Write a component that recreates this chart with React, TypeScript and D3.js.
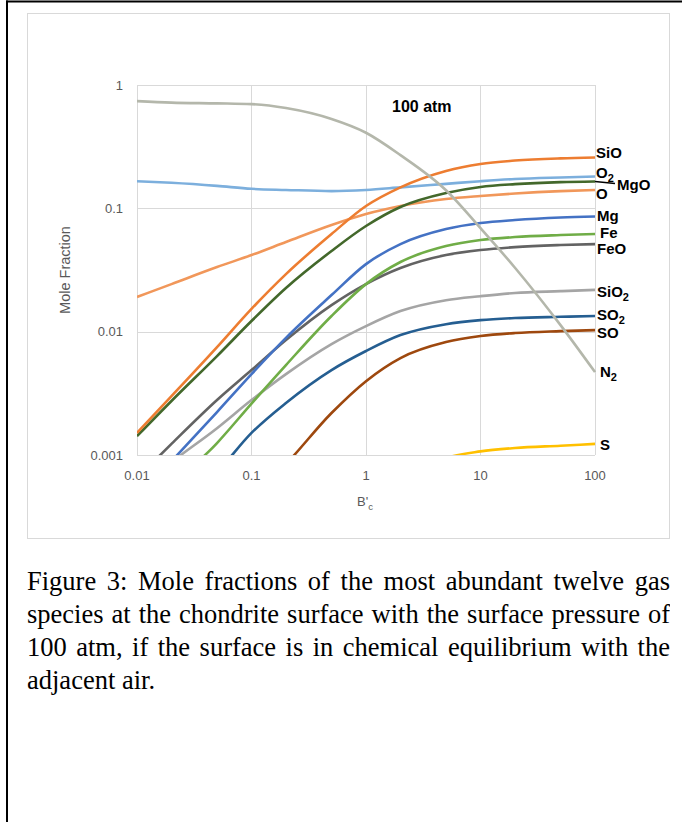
import React from 'react';
import * as d3 from 'd3';

// ---- data ----
const bValues = [0.01, 0.02, 0.05, 0.1, 0.2, 0.5, 1, 2, 5, 10, 20, 50, 100];
const xTicks = [0.01, 0.1, 1, 10, 100];
const xTickLabels = ['0.01', '0.1', '1', '10', '100'];
const yTicks = [0.001, 0.01, 0.1, 1];
const yTickLabels = ['0.001', '0.01', '0.1', '1'];

const N2 = [0.74, 0.72, 0.71, 0.70, 0.65, 0.53, 0.41, 0.27, 0.14, 0.069, 0.033, 0.0113, 0.0047];
const O2 = [0.166, 0.161, 0.152, 0.144, 0.141, 0.138, 0.141, 0.148, 0.158, 0.166, 0.173, 0.178, 0.181];
const SiO = [0.00151, 0.0030, 0.0075, 0.0153, 0.0293, 0.0619, 0.1044, 0.148, 0.201, 0.229, 0.244, 0.254, 0.258];
const MgO = [0.00142, 0.00274, 0.00634, 0.0122, 0.0226, 0.0451, 0.0719, 0.1025, 0.133, 0.149, 0.157, 0.163, 0.165];
const O = [0.0191, 0.0243, 0.0334, 0.0418, 0.0533, 0.0732, 0.0899, 0.1044, 0.119, 0.126, 0.132, 0.138, 0.141];
const Mg = [0.00045, 0.00089, 0.00223, 0.00453, 0.00891, 0.0198, 0.0353, 0.0513, 0.0679, 0.076, 0.0804, 0.0842, 0.0858];
const Fe = [0.00024, 0.00054, 0.00125, 0.00261, 0.00536, 0.0134, 0.0243, 0.0367, 0.0494, 0.0553, 0.0585, 0.0607, 0.0619];
const FeO = [0.00065, 0.00123, 0.00279, 0.00488, 0.00855, 0.0164, 0.0243, 0.0328, 0.0418, 0.0459, 0.0485, 0.0504, 0.0513];
const SiO2 = [0.00052, 0.000875, 0.00165, 0.00279, 0.00453, 0.00793, 0.0111, 0.0147, 0.0180, 0.0194, 0.0206, 0.0213, 0.0218];
const SO2 = [null, 0.00035, 0.000726, 0.00151, 0.00264, 0.00488, 0.00697, 0.00938, 0.0115, 0.0124, 0.0129, 0.0132, 0.0134];
const SO = [null, null, null, 0.00045, 0.000844, 0.00219, 0.00397, 0.00611, 0.00824, 0.00921, 0.00975, 0.0101, 0.0103];
const S = [null, null, null, null, null, null, null, 0.0006, 0.000944, 0.00107, 0.00114, 0.00119, 0.00123];

const seriesData = [SiO2, SO2, SO, S, FeO, Fe, Mg, O, MgO, O2, SiO, N2];
const labelMain = ['SiO', 'SO', 'SO', 'S', 'FeO', 'Fe', 'Mg', 'O', 'MgO', 'O', 'SiO', 'N'];
const labelSub = ['2', '2', '', '', '', '', '', '', '', '2', '', '2'];
const seriesColors = ['#a5a5a5', '#255e91', '#9e480e', '#ffc000', '#636363', '#70ad47', '#4472c4', '#f1975a', '#43682b', '#7cafdd', '#ed7d31', '#b4b7ab'];
// label placement relative to line end (dx, dy in px)
const labelDx = [2, 2, 2, 5, 2, 5, 2, 1, 22, 1, 1, 5];
const labelDy = [1.5, -1, 2.5, 0.5, 4.5, -1, -0.5, 4, 3.5, -4, -4.5, 0];

const captionLines = [
  'Figure 3: Mole fractions of the most abundant twelve gas',
  'species at the chondrite surface with the surface pressure of',
  '100 atm, if the surface is in chemical equilibrium with the',
  'adjacent air.',
];

const W = 682;
const H = 822;
const plot = { left: 137, right: 595, top: 85, bottom: 455 };

export default function App() {
  const x = d3.scaleLog().domain([0.01, 100]).range([plot.left, plot.right]);
  const y = d3.scaleLog().domain([0.001, 1]).range([plot.bottom, plot.top]);

  const line = d3
    .line<[number, number | null]>()
    .defined((d) => d[1] != null)
    .x((d) => x(d[0]))
    .y((d) => y(d[1] as number))
    .curve(d3.curveMonotoneX);

  const sans = '"Liberation Sans", Arial, sans-serif';
  const fs = 15;

  return (
    <svg
      width={W}
      height={H}
      viewBox={`0 0 ${W} ${H}`}
      style={{ position: 'absolute', left: 0, top: 0, background: '#fff' }}
    >
      <defs>
        <clipPath id="plotClip">
          <rect x={plot.left} y={plot.top - 5} width={plot.right - plot.left + 1} height={plot.bottom - plot.top + 5} />
        </clipPath>
      </defs>
      {/* page frame */}
      <rect x={0} y={0} width={W} height={H} fill="#fff" />
      <line x1={6} x2={W} y1={1.5} y2={1.5} stroke="#000" strokeWidth={2} />
      <line x1={7} x2={7} y1={0.5} y2={H} stroke="#000" strokeWidth={2} />

      {/* chart area border */}
      <rect x={27.5} y={13.5} width={642} height={525} fill="#fff" stroke="#d9d9d9" strokeWidth={1} />

      {/* gridlines */}
      {yTicks.map((t) => (
        <line key={'gy' + t} x1={plot.left} x2={plot.right} y1={Math.round(y(t)) + 0.5} y2={Math.round(y(t)) + 0.5} stroke="#d9d9d9" strokeWidth={1} />
      ))}
      {xTicks.map((t) => (
        <line key={'gx' + t} x1={Math.round(x(t)) + 0.5} x2={Math.round(x(t)) + 0.5} y1={plot.top} y2={plot.bottom} stroke="#d9d9d9" strokeWidth={1} />
      ))}

      {/* tick labels */}
      {yTicks.map((t, i) => (
        <text key={'ty' + t} x={123} y={y(t)} dy="0.35em" textAnchor="end" fontFamily={sans} fontSize={13} fill="#595959">
          {yTickLabels[i]}
        </text>
      ))}
      {xTicks.map((t, i) => (
        <text key={'tx' + t} x={x(t)} y={475} dy="0.35em" textAnchor="middle" fontFamily={sans} fontSize={13} fill="#595959">
          {xTickLabels[i]}
        </text>
      ))}

      {/* axis titles */}
      <text x={357} y={506} fontFamily={sans} fontSize={13} fill="#595959">
        B'<tspan fontSize={9.5} dy={4}>c</tspan>
      </text>
      <text
        transform={`translate(70,270) rotate(-90)`}
        textAnchor="middle"
        fontFamily={sans}
        fontSize={14.5}
        fill="#595959"
      >
        Mole Fraction
      </text>

      {/* series */}
      <g clipPath="url(#plotClip)">
        {seriesData.map((s, i) => (
          <path
            key={'s' + i}
            d={line(bValues.map((b, j) => [b, s[j]] as [number, number | null])) || ''}
            fill="none"
            stroke={seriesColors[i]}
            strokeWidth={2.6}
          />
        ))}
      </g>

      {/* leader line for MgO */}
      <line x1={595} y1={y(MgO[MgO.length - 1])} x2={615} y2={y(MgO[MgO.length - 1]) + 2} stroke="#000" strokeWidth={1.3} />

      {/* series labels */}
      {seriesData.map((s, i) => {
        const last = s[s.length - 1] as number;
        const cy = y(last) + labelDy[i];
        return (
          <text
            key={'l' + i}
            x={plot.right + labelDx[i]}
            y={cy + fs * 0.358}
            fontFamily={sans}
            fontWeight="bold"
            fontSize={fs}
            fill="#000"
          >
            {labelMain[i]}
            {labelSub[i] ? (
              <tspan fontSize={11} dy={4}>
                {labelSub[i]}
              </tspan>
            ) : null}
          </text>
        );
      })}

      {/* annotation */}
      <text x={392} y={112} fontFamily={sans} fontWeight="bold" fontSize={16} fill="#000">
        100 atm
      </text>

      {/* caption */}
      <foreignObject x={27} y={565} width={643} height={140}>
        <div
          style={{
            fontFamily: '"Liberation Serif", "Times New Roman", serif',
            fontSize: '26.5px',
            lineHeight: '33px',
            color: '#000',
          }}
        >
          {captionLines.map((l, i) => (
            <div
              key={i}
              style={{
                textAlign: i < captionLines.length - 1 ? 'justify' : 'left',
                textAlignLast: i < captionLines.length - 1 ? 'justify' : 'left',
                whiteSpace: 'nowrap',
              }}
            >
              {l}
            </div>
          ))}
        </div>
      </foreignObject>
    </svg>
  );
}
